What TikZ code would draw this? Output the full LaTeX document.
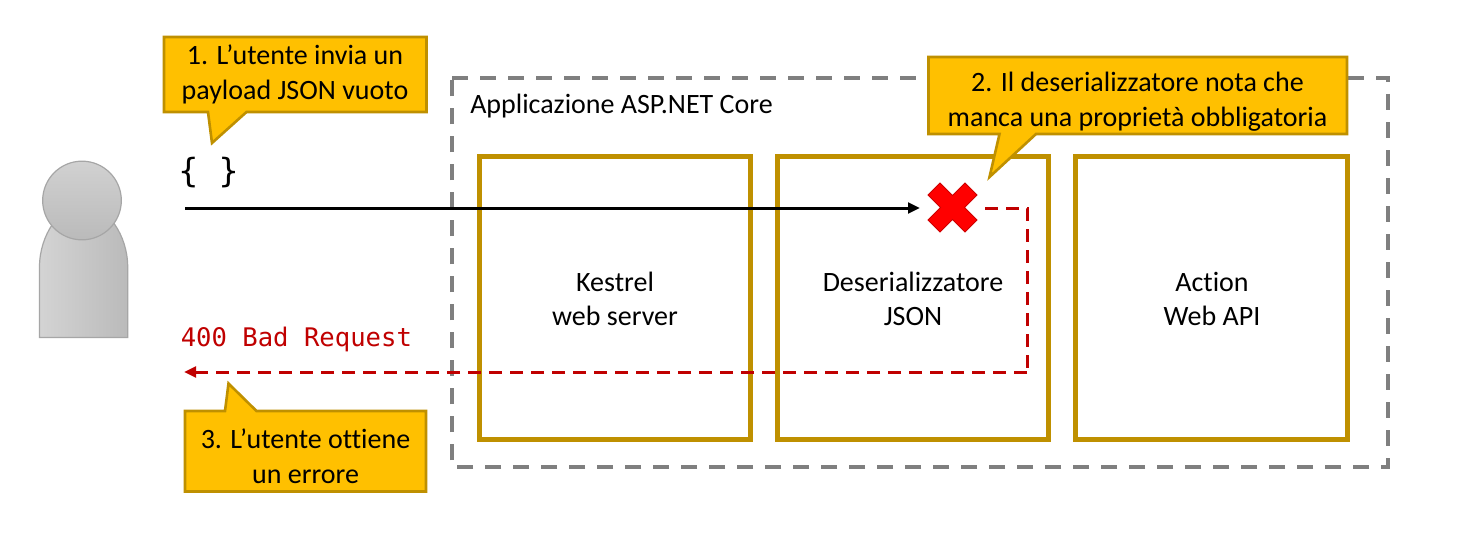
\documentclass[tikz,border=0pt]{standalone}
\usepackage{fontspec}
\setmainfont[Ligatures=NoCommon]{Carlito}
\newfontfamily\monof{DejaVu Sans Mono}
\usetikzlibrary{arrows.meta}
\definecolor{gold}{HTML}{BF9000}
\definecolor{amber}{HTML}{FFC000}
\definecolor{darkred}{HTML}{C00000}
\definecolor{midgray}{HTML}{7F7F7F}
\definecolor{persline}{HTML}{A6A6A6}
\tikzset{
  x=0.75pt,y=-0.75pt,
  px/.style={line width=#1*0.75pt},
  lbl/.style={font=\fontsize{21}{26}\selectfont,align=center,inner sep=0pt,text=black},
  calloutbox/.style={draw=gold,fill=amber,px=2.6,line join=miter},
  compbox/.style={draw=gold,fill=white,px=4.7,outer sep=0pt,inner sep=0pt,anchor=north west},
  groupframe/.style={outer sep=0pt,inner sep=0pt,anchor=north west},
  groupline/.style={draw=midgray,px=4,dash pattern=on 12pt off 9pt},
  reqline/.style={draw=black,px=3,-{Triangle[length=9pt,width=8pt]}},
  errdash/.style={draw=darkred,px=3,dash pattern=on 9.45pt off 6.3pt},
  errline/.style={errdash,-{Triangle[length=9pt,width=8pt]}},
}
\begin{document}
\begin{tikzpicture}
\useasboundingbox (0,0) rectangle (1480,535);
\fill[white] (0,0) rectangle (1480,535);
% group
\node[groupframe,minimum width=702pt,minimum height=291.75pt] (app) at (452,78) {};
\draw[groupline] (app.north west) -- (app.north east) -- (app.south east) -- (app.south west) -- cycle;
\node[lbl,anchor=west] (applbl) at (470,106) {Applicazione ASP.NET Core};
% components
\node[compbox,minimum width=203.1pt,minimum height=212pt] (kestrel) at (479.7,156.7) {};
\node[compbox,minimum width=203.1pt,minimum height=212pt] (deser) at (777.7,156.7) {};
\node[compbox,minimum width=203.9pt,minimum height=212pt] (action) at (1075.7,156.7) {};
\node[lbl] (kestrellbl) at (615,299) {Kestrel\\web server};
\node[lbl] (deserlbl) at (913,299) {Deserializzatore\\JSON};
\node[lbl] (actionlbl) at (1212,299) {Action\\Web API};
% person
\path[draw=persline,px=1.2,left color=black!17,right color=black!27]
  (39.5,337.5) -- (39.5,267) .. controls (39.5,235) and (60,205) .. (83.5,205) .. controls (107,205) and (127.7,235) .. (127.7,267) -- (127.7,337.5) -- cycle;
\node[circle,draw=persline,px=1.2,top color=black!18,bottom color=black!27,minimum size=59pt,inner sep=0pt] (head) at (82,200.5) {};
% connectors
\coordinate (reqstart) at (185,208);
\coordinate (reqend) at (920,208);
\coordinate (errstart) at (985,208);
\coordinate (errbend) at (1027,208);
\coordinate (errturn) at (1027,372);
\coordinate (errend) at (184,372);
\draw[reqline] (reqstart) -- (reqend);
\draw[errdash] (errstart) -- (errbend) -- (errturn);
\draw[errline] (errturn) -- (errend);
% cross
\fill[red,draw=red!80!black,px=1] (940,183) -- (952.5,195.5) -- (965,183) -- (977,195) -- (964.5,207.5) -- (977,220) -- (965,232) -- (952.5,219.5) -- (940,232) -- (928,220) -- (940.5,207.5) -- (928,195) -- cycle;
% code labels
\node[font=\monof\fontsize{25}{30}\selectfont,inner sep=0pt,text=black] (brace) at (208.5,173) {\{ \}};
\node[font=\monof\fontsize{19.2}{24}\selectfont,inner sep=0pt,text=darkred,anchor=west] (bad) at (180.5,339.5) {400 Bad Request};
% callouts
\path[calloutbox] (164,37) -- (426.5,37) -- (426.5,112) -- (246.5,112) -- (212,143) -- (208,112) -- (164,112) -- cycle;
\node[lbl] (c1) at (295,74.5) {1. L’utente invia un\\payload JSON vuoto};
\path[calloutbox] (928.5,57) -- (1347,57) -- (1347,134) -- (1036,134) -- (989.5,177) -- (999.5,134) -- (928.5,134) -- cycle;
\node[lbl] (c2) at (1137.5,102) {2. Il deserializzatore nota che\\manca una proprietà obbligatoria};
\path[calloutbox] (185,411) -- (225,411) -- (228.5,383.5) -- (256.5,411) -- (426,411) -- (426,491.5) -- (185,491.5) -- cycle;
\node[lbl] (c3) at (305.5,456) {3. L’utente ottiene\\un errore};
\end{tikzpicture}
\end{document}
